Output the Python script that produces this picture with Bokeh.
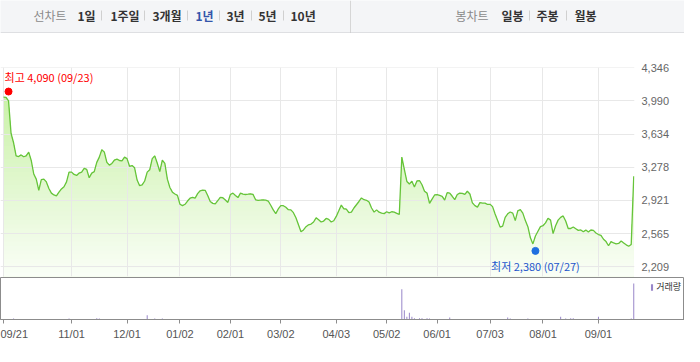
import numpy as np
from bokeh.plotting import figure
from bokeh.layouts import column, row
from bokeh.models import Range1d, FixedTicker, NumeralTickFormatter, Legend, LegendItem
from bokeh.core.properties import value
from bokeh.embed import file_html
from bokeh.resources import INLINE

# ---------------- data ----------------
# daily closes, one per trading day from 2022-09-21 to 2023-09-21
close = [
    4030, 4028, 3990, 3640, 3540, 3400, 3392, 3410, 3390, 3400,
    3440, 3350, 3205, 3150, 3030, 3145, 3150, 3120, 3050, 3000,
    2980, 2970, 3010, 3045, 3068, 3120, 3225, 3225, 3200, 3190,
    3215, 3225, 3265, 3255, 3165, 3215, 3230, 3330, 3386, 3466,
    3440, 3330, 3300, 3318, 3355, 3365, 3350, 3345, 3386, 3370,
    3288, 3296, 3272, 3140, 3080, 3088, 3130, 3225, 3250, 3370,
    3400, 3320, 3230, 3355, 3320, 3150, 3060, 3010, 2990, 2975,
    2880, 2865, 2880, 2915, 2945, 2955, 2945, 2995, 3025, 3033,
    3030, 2975, 2910, 2890, 2885, 2920, 2955, 2950, 2925, 2900,
    2985, 3000, 2975, 2952, 3000, 2990, 2985, 2988, 2992, 2985,
    2928, 2922, 2925, 2928, 2924, 2915, 2870, 2820, 2780, 2830,
    2865, 2865, 2848, 2822, 2820, 2790, 2735, 2660, 2585, 2605,
    2640, 2660, 2668, 2690, 2735, 2714, 2690, 2700, 2728, 2718,
    2690, 2703, 2750, 2810, 2871, 2832, 2829, 2790, 2795, 2840,
    2875, 2910, 2948, 2929, 2923, 2905, 2840, 2796, 2820, 2795,
    2785, 2780, 2800, 2787, 2800, 2795, 2783, 2771, 3386, 3255,
    3125, 3098, 3128, 3066, 3130, 3135, 3090, 3020, 3000, 2890,
    2935, 2980, 2984, 2975, 2966, 2925, 3005, 3000, 2966, 2930,
    2985, 3000, 2998, 2987, 3020, 2990, 2895, 2865, 2849, 2898,
    2892, 2892, 2878, 2880, 2855, 2775, 2705, 2635, 2645, 2740,
    2778, 2797, 2785, 2705, 2810, 2822, 2785, 2705, 2640, 2520,
    2455, 2540, 2590, 2640, 2650, 2680, 2730, 2710, 2565, 2650,
    2710, 2740, 2755, 2700, 2620, 2620, 2636, 2618, 2600, 2605,
    2585, 2603, 2582, 2604, 2600, 2572, 2555, 2547, 2505, 2480,
    2435, 2480, 2465, 2456, 2460, 2485, 2465, 2445, 2430, 2448,
    3180,
]
# trading-day index of the month ticks and their labels
tick_idx = [0, 27, 49, 70, 90, 110, 132, 152, 172, 193, 214, 236]
tick_labels = ["09/21", "11/01", "12/01", "01/02", "02/01", "03/02",
               "04/03", "05/02", "06/01", "07/03", "08/01", "09/01"]
price_ticks = [2209, 2565, 2921, 3278, 3634, 3990, 4346]

# volume (thousand shares) on days with a visible bar
vol_idx = [4, 26, 37, 38, 57, 60, 63, 158, 159, 160, 161, 162, 163, 165,
           166, 168, 169, 177, 200, 201, 208, 221, 223, 225, 226, 236, 249, 250]
vol_k = [40, 40, 52, 40, 172, 40, 40, 1212, 372, 108, 268, 108, 52, 52,
         52, 52, 40, 80, 80, 40, 40, 108, 40, 52, 52, 108, 40, 1440]

hi_idx, hi_val, hi_date = 2, 4090, "09/23"
lo_idx, lo_val, lo_date = 211, 2380, "07/27"

tabs_left = ["선차트", "1일", "1주일", "3개월", "1년", "3년", "5년", "10년"]
tabs_right = ["봉차트", "일봉", "주봉", "월봉"]

# ---------------- layout constants ----------------
W = 684
K = 2.521            # pixels per trading day
X0 = 3.0             # pixel position of first day inside frame
FRAME_W = 634
KR = value("Noto Sans CJK KR")

x_start = -X0 / K
idx = np.arange(len(close))
close_a = np.array(close, dtype=float)

# ---------------- tab bar ----------------
tab = figure(width=W, height=33, x_range=Range1d(0, W), y_range=Range1d(0, 33),
             toolbar_location=None, output_backend="svg",
             x_axis_location=None, y_axis_location=None,
             min_border=0, outline_line_color=None,
             background_fill_color="#f4f5f7", border_fill_color="#f4f5f7")
tab.grid.visible = False
left_x = [33, 77, 110, 152, 195, 226, 258, 290]
left_col = ["#8a8a8a", "#333333", "#333333", "#333333", "#3355aa", "#333333", "#333333", "#333333"]
left_style = ["normal"] + ["bold"] * 7
tab.text(x=left_x, y=[18] * len(left_x), text=tabs_left, text_color=left_col,
         text_font_style=left_style, text_font=KR, text_font_size="12px",
         text_baseline="middle", text_align="left")
right_x = [455, 501, 536, 574]
right_col = ["#8a8a8a", "#333333", "#333333", "#333333"]
right_style = ["normal", "bold", "bold", "bold"]
tab.text(x=right_x, y=[18] * len(right_x), text=tabs_right, text_color=right_col,
         text_font_style=right_style, text_font=KR, text_font_size="12px",
         text_baseline="middle", text_align="left")
sep_x = [101, 144, 187, 219, 251, 283, 529, 566]
tab.segment(x0=sep_x, y0=[13] * len(sep_x), x1=sep_x, y1=[23] * len(sep_x),
            line_color="#d0d0d0", line_width=1)
tab.segment(x0=[350], y0=[0], x1=[350], y1=[33], line_color="#d6d6d6", line_width=1)
tab.segment(x0=[0], y0=[0.5], x1=[W], y1=[0.5], line_color="#c9c9cc", line_width=1)

# ---------------- price chart ----------------
p = figure(width=W, height=244,
           x_range=Range1d(x_start, x_start + FRAME_W / K),
           y_range=Range1d(2105, 4348),
           y_axis_location="right", toolbar_location=None, output_backend="svg",
           min_border_left=0, min_border_right=W - FRAME_W,
           min_border_top=34, min_border_bottom=1,
           outline_line_color=None)
p.xaxis.visible = False
p.xgrid.ticker = FixedTicker(ticks=tick_idx)
p.yaxis.ticker = FixedTicker(ticks=price_ticks)
p.yaxis.formatter = NumeralTickFormatter(format="0,0")
p.yaxis.axis_line_color = None
p.yaxis.major_tick_line_color = None
p.yaxis.minor_tick_line_color = None
p.yaxis.major_tick_out = 0
p.yaxis.major_tick_in = 0
p.yaxis.minor_tick_out = 0
p.yaxis.minor_tick_in = 0
p.yaxis.major_label_standoff = 7
p.yaxis.major_label_text_font_size = "11px"
p.yaxis.major_label_text_color = "#666666"
p.yaxis.major_label_text_font = "Liberation Sans"
p.grid.grid_line_color = "#e8e8e8"
p.grid.grid_line_width = 1

# vertical gradient fill under the line (painted top band first)
ymin, ymax = 2105.0, 4348.0
N = 48
levels = np.linspace(ymin, ymax, N + 1)
c_top = np.array([194, 239, 156])
c_bot = np.array([250, 254, 247])
for k in range(N - 1, -1, -1):
    t = (levels[k] + levels[k + 1]) / 2
    f = (t - ymin) / (ymax - ymin)
    c = c_bot + (c_top - c_bot) * f
    col = "#%02x%02x%02x" % tuple(int(round(v)) for v in c)
    p.varea(x=idx, y1=np.full(len(idx), ymin), y2=np.minimum(close_a, levels[k + 1]),
            fill_color=col, level="image")

p.line(idx, close_a, line_color="#66c43a", line_width=1.3)

p.scatter([hi_idx], [hi_val], size=7, fill_color="#ff0000", line_color="#ff0000")
p.text(x=[hi_idx], y=[hi_val], text=[f"최고 {hi_val:,} ({hi_date})"],
       text_color="#ff0000", text_font=KR, text_font_size="11px",
       text_align="left", text_baseline="bottom", x_offset=-4, y_offset=-7)
p.scatter([lo_idx], [lo_val], size=7, fill_color="#1f6fe0", line_color="#1f6fe0")
p.text(x=[lo_idx], y=[lo_val], text=[f"최저 {lo_val:,} ({lo_date})"],
       text_color="#2255cc", text_font=KR, text_font_size="11px",
       text_align="center", text_baseline="top", y_offset=7)

# ---------------- volume chart ----------------
v = figure(width=W, height=66,
           x_range=Range1d(x_start, x_start + W / K),
           y_range=Range1d(0, 1680),
           y_axis_location=None, toolbar_location=None, output_backend="svg",
           min_border_left=0, min_border_right=0, min_border_top=0, min_border_bottom=24,
           outline_line_color="#8c8c8c")
v.grid.visible = False
bars = v.vbar(x=vol_idx, top=vol_k, width=1.0 / K, fill_color="#9886c9",
              line_color=None)
v.xaxis.ticker = FixedTicker(ticks=tick_idx)
v.xaxis.major_label_overrides = {i: s for i, s in zip(tick_idx, tick_labels)}
v.xaxis.major_label_text_align = "left"
v.xaxis.axis_line_color = "#8c8c8c"
v.xaxis.major_tick_line_color = "#8c8c8c"
v.xaxis.major_tick_out = 4
v.xaxis.major_tick_in = 0
v.xaxis.minor_tick_line_color = None
v.xaxis.minor_tick_out = 0
v.xaxis.major_label_standoff = 4
v.xaxis.major_label_text_font_size = "11px"
v.xaxis.major_label_text_color = "#555555"
v.xaxis.major_label_text_font = "Liberation Sans"

legend = Legend(items=[LegendItem(label="거래량", renderers=[bars])],
                location="top_right", glyph_width=3, glyph_height=8,
                label_standoff=3, label_text_font_size="9px",
                label_text_font="Noto Sans CJK KR", label_text_color="#333333",
                background_fill_alpha=0, border_line_color=None,
                margin=3, padding=0, spacing=0, label_height=10)
v.add_layout(legend)

# ---------------- bottom border ----------------
b = figure(width=W, height=3, x_range=Range1d(0, 1), y_range=Range1d(0, 1),
           toolbar_location=None, output_backend="svg",
           x_axis_location=None, y_axis_location=None, min_border=0,
           outline_line_color=None, background_fill_color="#555555",
           border_fill_color="#555555")
b.grid.visible = False

layout = column(row(tab), row(p), row(v), row(b), spacing=0)
open("out.html", "w").write(file_html(layout, INLINE))
